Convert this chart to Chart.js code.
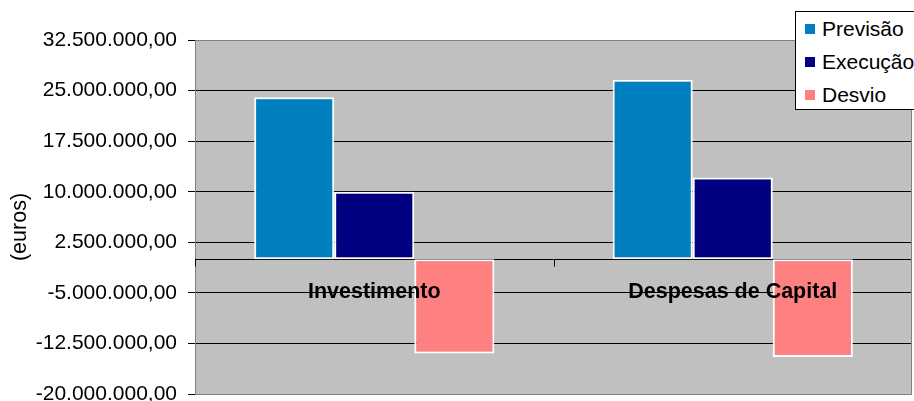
<!DOCTYPE html>
<html>
<head>
<meta charset="utf-8">
<script src="https://cdn.jsdelivr.net/npm/chart.js@4/dist/chart.umd.min.js"></script>
<style>
  html, body { margin: 0; padding: 0; background: #fff; overflow: hidden; }
  #wrap { position: relative; width: 914px; height: 401px; }
  #legend {
    position: absolute; left: 795px; top: 11px; width: 130px; height: 99px;
    box-sizing: border-box; background: #fff; border: 1px solid #000;
    font: 21px "Liberation Sans", Arial, sans-serif; color: #000;
  }
  .row { display: flex; align-items: center; height: 33px; white-space: nowrap; }
  .sw { width: 10px; height: 10px; margin-left: 9px; margin-right: 7px; flex: none; }
</style>
</head>
<body>
<div id="wrap">
  <canvas id="c" width="914" height="401"></canvas>
  <div id="legend"></div>
</div>
<script>
// Categories and series (euros)
const categories = ['Investimento', 'Despesas de Capital'];
const seriesNames = ['Previsão', 'Execução', 'Desvio'];
const previsao = [24000000, 26600000];
const execucao = [10000000, 12100000];
const desvio = [-14000000, -14500000];
const seriesColors = ['#0080C0', '#000080', '#FF8080'];

// Value axis range and step
const yMin = -20000000;
const yMax = 32500000;
const yStep = 7500000;
const yTitle = '(euros)';

const FONT = '"Liberation Sans", Arial, sans-serif';

function fmtEuro(v) {
  const neg = v < 0;
  const n = Math.round(Math.abs(v));
  const s = String(n).replace(/\B(?=(\d{3})+(?!\d))/g, '.');
  return (neg ? '-' : '') + s + ',00';
}

const seriesValues = [previsao, execucao, desvio];

// Plot background, borders, zero line with category ticks, labels and axis title
const plotDecor = {
  id: 'plotDecor',
  beforeDraw(chart) {
    const { ctx, chartArea: a } = chart;
    ctx.save();
    ctx.fillStyle = '#C0C0C0';
    ctx.fillRect(a.left, a.top, a.right - a.left, a.bottom - a.top);
    ctx.restore();
  },
  beforeDatasetsDraw(chart) {
    const { ctx, chartArea: a, scales } = chart;
    const y0 = Math.round(scales.y.getPixelForValue(0)) + 0.5;
    ctx.save();
    ctx.strokeStyle = '#000';
    ctx.lineWidth = 1;
    ctx.beginPath();
    ctx.moveTo(a.left, y0);
    ctx.lineTo(a.right, y0);
    const n = categories.length;
    const step = (scales.x.right - scales.x.left) / n;
    for (let i = 0; i <= n; i++) {
      const x = Math.round(scales.x.left + i * step) + (i === n ? -0.5 : 0.5);
      ctx.moveTo(x, y0);
      ctx.lineTo(x, y0 + 7);
    }
    ctx.stroke();
    // right border
    ctx.strokeStyle = '#808080';
    ctx.beginPath();
    ctx.moveTo(Math.round(a.right) - 0.5, a.top);
    ctx.lineTo(Math.round(a.right) - 0.5, a.bottom);
    ctx.stroke();
    ctx.restore();
  },
  afterDatasetsDraw(chart) {
    const { ctx, scales } = chart;
    const y0 = scales.y.getPixelForValue(0);
    ctx.save();
    ctx.fillStyle = '#000';
    ctx.font = 'bold 21.5px ' + FONT;
    ctx.textAlign = 'center';
    ctx.textBaseline = 'middle';
    categories.forEach((c, i) => {
      ctx.fillText(c, scales.x.getPixelForValue(i), y0 + 33);
    });
    // axis title
    const a = chart.chartArea;
    ctx.font = '21.5px ' + FONT;
    ctx.translate(20, (a.top + a.bottom) / 2 + 10);
    ctx.rotate(-Math.PI / 2);
    ctx.fillText(yTitle, 0, 0);
    ctx.restore();
  }
};

new Chart(document.getElementById('c'), {
  type: 'bar',
  data: {
    labels: categories,
    datasets: seriesNames.map((name, i) => ({
      label: name,
      data: seriesValues[i],
      backgroundColor: seriesColors[i],
      borderColor: '#FFFFFF',
      borderWidth: 2,
      borderSkipped: false,
      categoryPercentage: 0.67,
      barPercentage: 1.0
    }))
  },
  options: {
    responsive: false,
    animation: false,
    devicePixelRatio: 1,
    layout: { padding: { left: 0, top: 40, right: 2, bottom: 7 } },
    plugins: {
      legend: { display: false },
      tooltip: { enabled: false }
    },
    scales: {
      x: { display: false },
      y: {
        min: yMin,
        max: yMax,
        ticks: {
          stepSize: yStep,
          callback: (v) => fmtEuro(v),
          color: '#000',
          padding: 11,
          font: { family: FONT, size: 21 }
        },
        grid: {
          color: (ctx) => (ctx.tick && (ctx.tick.value === yMin || ctx.tick.value === yMax)) ? '#808080' : '#000',
          tickColor: '#000',
          lineWidth: 1,
          tickLength: 7
        },
        border: { color: '#808080', width: 1 },
        afterFit(s) {
          s.width = 195;
          s.paddingTop = 0;
          s.paddingBottom = 0;
        }
      }
    }
  },
  plugins: [plotDecor]
});

// Legend built from the series
const legend = document.getElementById('legend');
seriesNames.forEach((name, i) => {
  const row = document.createElement('div');
  row.className = 'row';
  const sw = document.createElement('span');
  sw.className = 'sw';
  sw.style.background = seriesColors[i];
  const t = document.createElement('span');
  t.textContent = name;
  row.appendChild(sw);
  row.appendChild(t);
  legend.appendChild(row);
});
</script>
</body>
</html>
